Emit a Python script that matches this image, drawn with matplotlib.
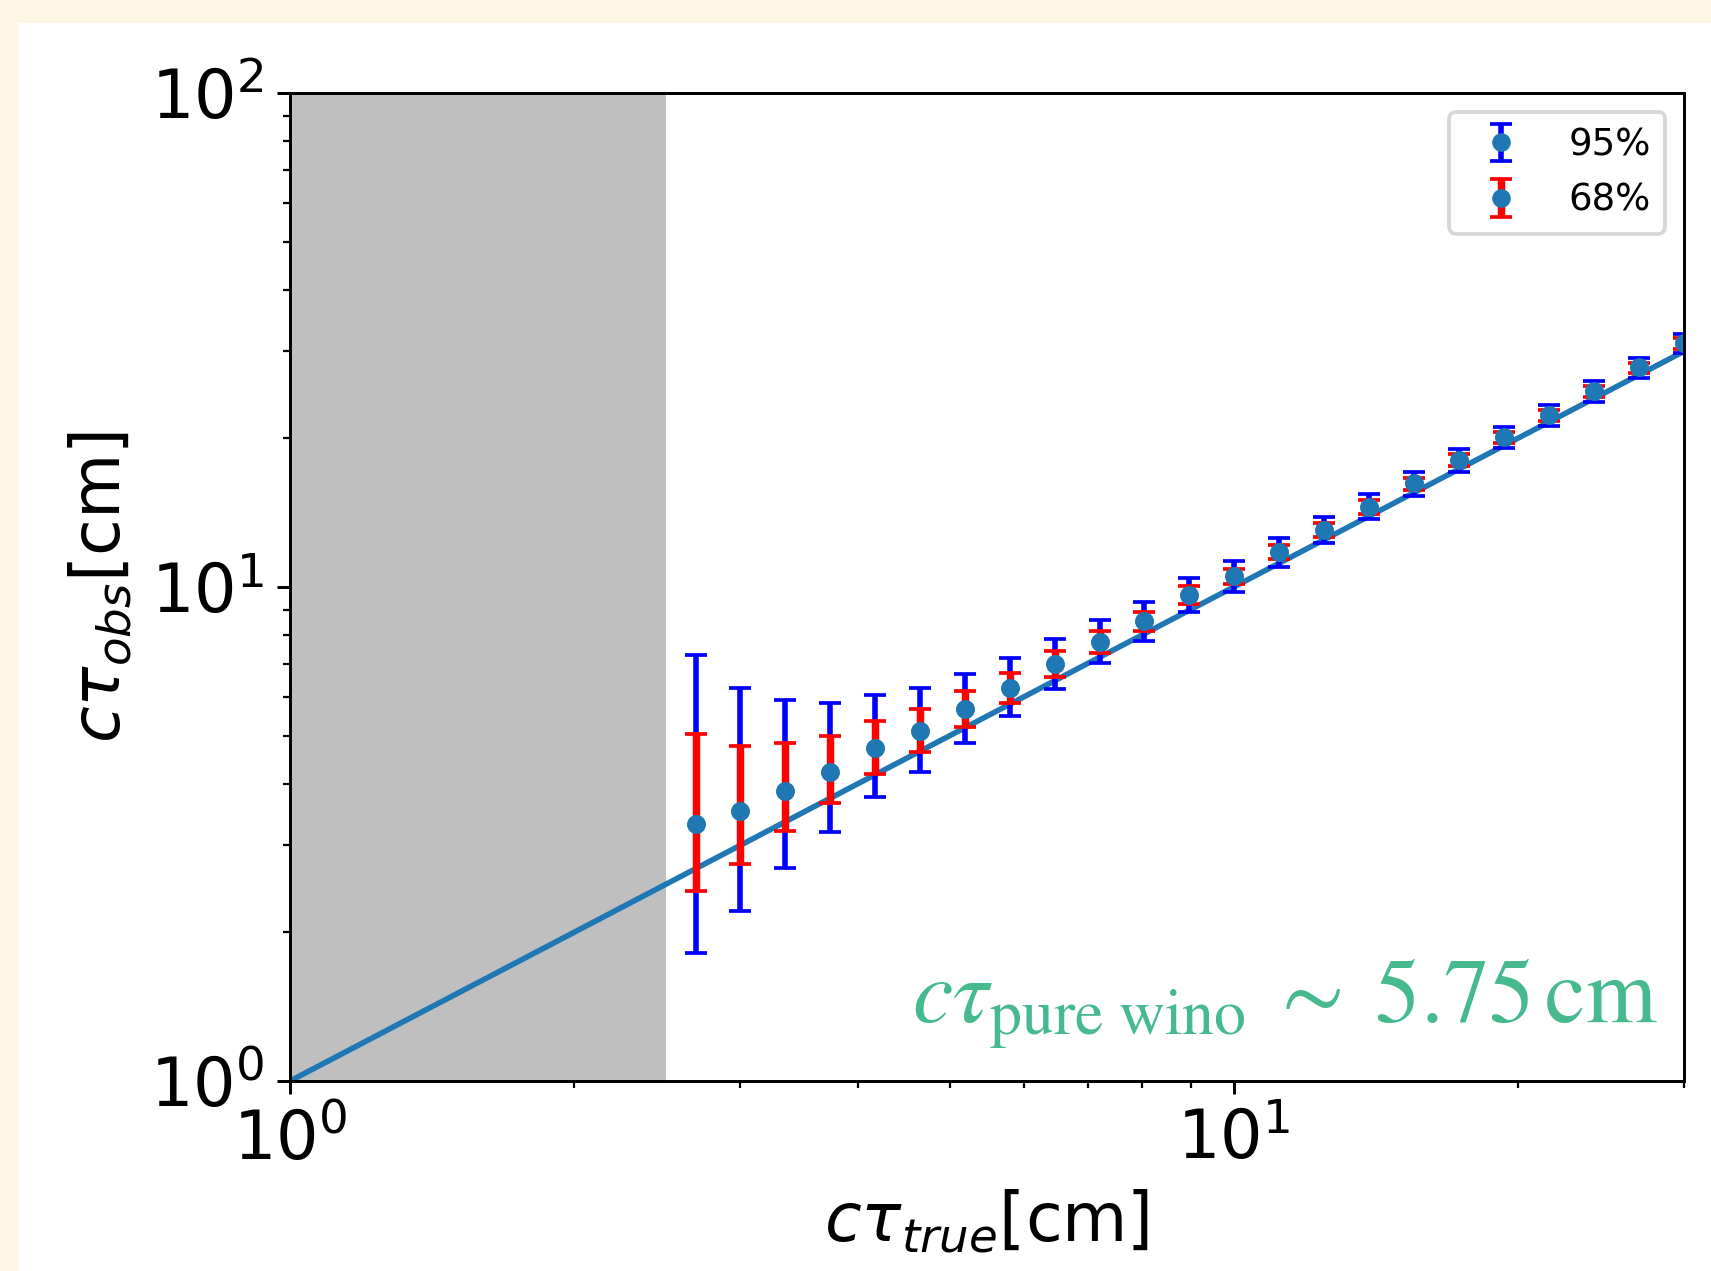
import numpy as np
import matplotlib
matplotlib.use("Agg")
import matplotlib.pyplot as plt
from matplotlib.patches import Rectangle

# values
x_true = [2.69, 3.00, 3.35, 3.73, 4.17, 4.65, 5.19, 5.79, 6.46, 7.21, 8.04, 8.97,
          10.01, 11.17, 12.47, 13.91, 15.52, 17.32, 19.33, 21.57, 24.07, 26.85, 29.97]
y_obs = [3.31, 3.52, 3.87, 4.23, 4.72, 5.10, 5.65, 6.24, 6.99, 7.75, 8.55, 9.63,
         10.53, 11.77, 13.04, 14.50, 16.22, 18.08, 20.16, 22.30, 24.97, 27.85, 31.14]
lo95 = [1.82, 2.21, 2.70, 3.19, 3.75, 4.23, 4.83, 5.47, 6.22, 7.01, 7.79, 8.89,
        9.75, 10.99, 12.26, 13.71, 15.29, 17.12, 19.09, 21.21, 23.72, 26.46, 29.72]
hi95 = [7.28, 6.24, 5.90, 5.83, 6.05, 6.24, 6.68, 7.18, 7.86, 8.58, 9.31, 10.44,
        11.27, 12.58, 13.88, 15.43, 17.12, 19.03, 21.11, 23.36, 26.12, 29.04, 32.47]
lo68 = [2.42, 2.75, 3.20, 3.65, 4.18, 4.63, 5.21, 5.83, 6.57, 7.34, 8.16, 9.24,
        10.13, 11.37, 12.64, 14.05, 15.72, 17.58, 19.59, 21.71, 24.28, 27.15, 30.32]
hi68 = [5.03, 4.77, 4.83, 5.00, 5.36, 5.65, 6.16, 6.71, 7.41, 8.16, 8.91, 10.06,
        10.86, 12.16, 13.50, 15.00, 16.60, 18.56, 20.63, 22.82, 25.56, 28.45, 31.87]
diag = [1.0, 30.0]
excluded = [1.0, 2.5]

y = np.array(y_obs)
err95 = [y - np.array(lo95), np.array(hi95) - y]
err68 = [y - np.array(lo68), np.array(hi68) - y]

dpi = 267.35
fig = plt.figure(figsize=(1711/dpi, 1271/dpi), dpi=dpi, facecolor='#fef6e4')
fig.add_artist(Rectangle((19/1711, 0), 1, 1 - 23/1271, transform=fig.transFigure,
                         facecolor='white', edgecolor='none', zorder=-1))
ax = fig.add_axes([290/1711, 1 - 1081/1271, 1394/1711, 988/1271])

ax.axvspan(excluded[0], excluded[1], color='grey', alpha=0.5, lw=0)
ax.plot(diag, diag, color='C0')
ax.errorbar(x_true, y_obs, yerr=err95, fmt='o', ms=4, color='C0', ecolor='blue',
            capsize=3, label='95%')
ax.errorbar(x_true, y_obs, yerr=err68, fmt='o', ms=4, color='C0', ecolor='red',
            elinewidth=2, capsize=3, label='68%')

ax.set_xscale('log')
ax.set_yscale('log')
ax.set_xlim(1, 30)
ax.set_ylim(1, 100)
ax.tick_params(axis='both', which='major', labelsize=18)
ax.set_xlabel(r'$c\tau_{true}$[cm]', fontsize=18)
ax.set_ylabel(r'$c\tau_{obs}$[cm]', fontsize=18)
ax.legend(loc='upper right')
ax.text(0.981, 0.06, r'$c\tau_{\mathrm{pure\ wino}}\;\sim\;5.75\,\mathrm{cm}$',
        transform=ax.transAxes, ha='right', va='baseline', fontsize=24.5,
        color='#46b98f', math_fontfamily='stix')

fig.savefig('out.png', dpi=dpi, facecolor=fig.get_facecolor())
